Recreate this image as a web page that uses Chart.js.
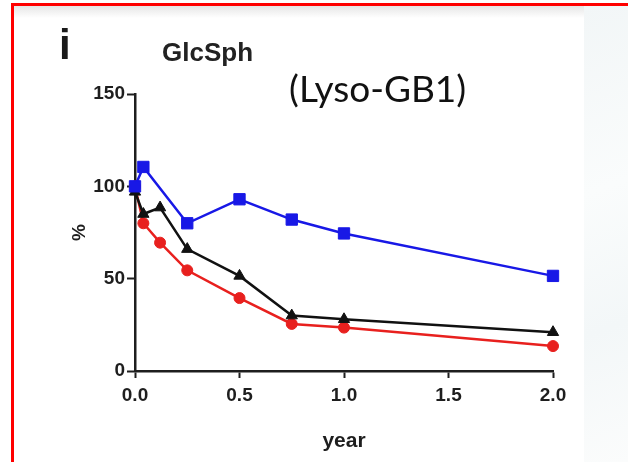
<!DOCTYPE html>
<html>
<head>
<meta charset="utf-8">
<script src="https://cdn.jsdelivr.net/npm/chart.js@4"></script>
<style>
  html, body { margin: 0; padding: 0; background: #fff; }
  #wrap { position: relative; width: 628px; height: 462px; overflow: hidden; background: #fff; }
  #frame { position: absolute; left: 11px; top: 3px; right: -10px; bottom: -10px;
           border-top: 3px solid #ff0000; border-left: 3px solid #ff0000; }
  #shade { position: absolute; left: 14px; top: 6px; width: 614px; height: 12px;
           background: linear-gradient(#e6e6e6, rgba(255,255,255,0)); }
  #mark { position: absolute; left: 584px; top: 6px; width: 44px; height: 456px;
          background: linear-gradient(160deg, #f2f6f7 0%, #fafcfc 40%, #f3f7f8 70%, #fbfcfc 100%); }
  .lbl { position: absolute; white-space: nowrap; line-height: 1; color: #1a1a1a; }
  #panel { left: 59px; top: 21px; font: bold 42px "Liberation Sans", Arial, sans-serif; }
  #analyte { left: 162px; top: 37px; font: bold 26px "Liberation Sans", Arial, sans-serif; color: #222; }
  #lyso { left: 289px; top: 65px; font: 37px Lato, "Open Sans", sans-serif; color: #111; }
  #chartBox { position: absolute; left: 0; top: 0; width: 628px; height: 462px; }
</style>
</head>
<body>
<div id="wrap">
  <div id="shade"></div>
  <div id="mark"></div>
  <div id="frame"></div>
  <div id="chartBox"><canvas id="chart"></canvas></div>
  <div class="lbl" id="panel">i</div>
  <div class="lbl" id="analyte">GlcSph</div>
  <div class="lbl" id="lyso">(Lyso-GB1)</div>
</div>
<script>
// time after start of treatment, in years
const blueYears = [0, 0.04, 0.25, 0.5, 0.75, 1.0, 2.0];
const blueValues = [100, 110.5, 80, 93, 82, 74.5, 51.5];

const blackYears = [0, 0.04, 0.12, 0.25, 0.5, 0.75, 1.0, 2.0];
const blackValues = [97, 85, 88.5, 66, 51.5, 30, 28, 21];

const redYears = [0, 0.04, 0.12, 0.25, 0.5, 0.75, 1.0, 2.0];
const redValues = [100, 80, 69.5, 54.5, 39.5, 25.5, 23.5, 13.5];

const xTicks = [0, 0.5, 1.0, 1.5, 2.0];
const yTicks = [0, 50, 100, 150];

const toPoints = (xs, ys) => xs.map((x, i) => ({ x: x, y: ys[i] }));

const axisColor = '#1e1e1e';
const tickFont = { family: '"Liberation Sans", Arial, sans-serif', size: 19, weight: 'bold' };
const titleFont = { family: '"Liberation Sans", Arial, sans-serif', size: 21, weight: 'bold' };

function series(data, color, style, radius) {
    return {
        data: data,
        borderColor: color,
        backgroundColor: color,
        borderWidth: 2.5,
        pointStyle: style,
        pointRadius: radius,
        pointBorderWidth: 1,
        tension: 0,
        fill: false,
        clip: false,
    };
}

const ctx = document.getElementById('chart').getContext('2d');

new Chart(ctx, {
    type: 'line',
    data: {
        datasets: [
            series(toPoints(blueYears, blueValues), '#1818e6', 'rect', 8),
            series(toPoints(blackYears, blackValues), '#111111', 'triangle', 6.5),
            series(toPoints(redYears, redValues), '#e8201e', 'circle', 5.5),
        ],
    },
    options: {
        responsive: true,
        maintainAspectRatio: false,
        animation: false,
        layout: { padding: { left: 68, top: 94, right: 75, bottom: 0 } },
        plugins: {
            legend: { display: false },
            tooltip: { enabled: false },
        },
        scales: {
            x: {
                type: 'linear',
                min: 0,
                max: 2,
                afterBuildTicks: axis => { axis.ticks = xTicks.map(v => ({ value: v })); },
                afterFit: axis => { axis.height = 91; },
                ticks: {
                    color: axisColor,
                    font: tickFont,
                    padding: 6,
                    maxRotation: 0,
                    callback: v => v.toFixed(1),
                },
                grid: {
                    drawOnChartArea: false,
                    drawTicks: true,
                    tickLength: 7,
                    tickWidth: 2,
                    tickColor: axisColor,
                },
                border: { display: true, color: axisColor, width: 2.5 },
                title: {
                    display: true,
                    text: 'year',
                    color: axisColor,
                    font: titleFont,
                    padding: { top: 0, bottom: 8 },
                },
            },
            y: {
                min: 0,
                max: 150,
                afterBuildTicks: axis => { axis.ticks = yTicks.map(v => ({ value: v })); },
                afterFit: axis => { axis.width = 67; },
                ticks: {
                    color: axisColor,
                    font: tickFont,
                    padding: 2,
                },
                grid: {
                    drawOnChartArea: false,
                    drawTicks: true,
                    tickLength: 8,
                    tickWidth: 2,
                    tickColor: axisColor,
                },
                border: { display: true, color: axisColor, width: 2.5 },
                title: {
                    display: true,
                    text: '%',
                    color: axisColor,
                    font: { family: '"Liberation Sans", Arial, sans-serif', size: 19, weight: 'bold' },
                    padding: 0,
                },
            },
        },
    },
});
</script>
</body>
</html>
